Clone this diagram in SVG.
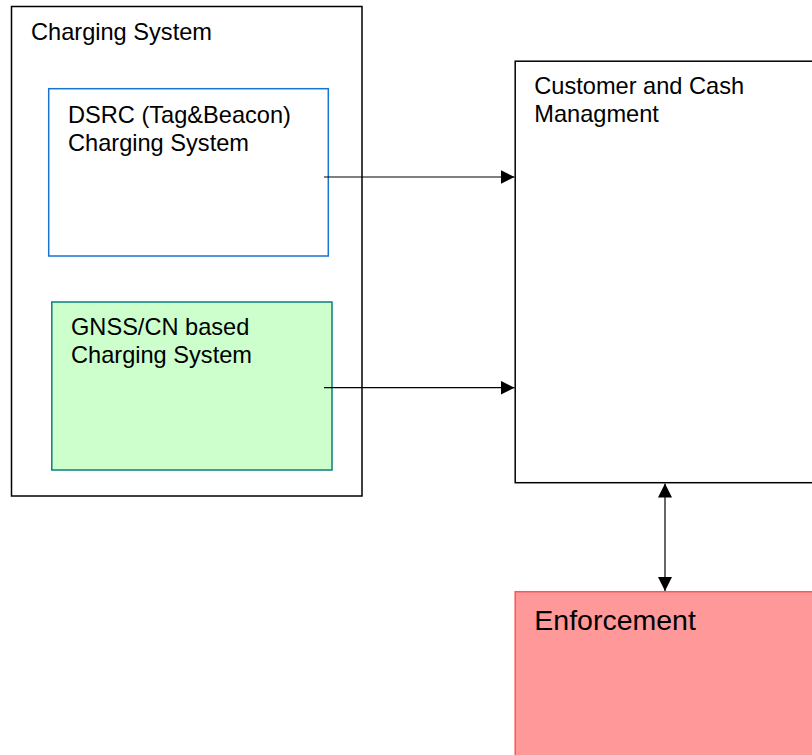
<svg xmlns="http://www.w3.org/2000/svg" width="812" height="755" viewBox="0 0 812 755">
  <style>
    text { font-family: "Liberation Sans", Arial, sans-serif; fill: #000; }
    .lbl { font-size: 23.6px; }
    .big { font-size: 28.5px; }
    .conn { stroke: #000; stroke-width: 1.2; fill: none; }
  </style>
  <defs>
    <marker id="head" viewBox="0 0 14 14" refX="14" refY="7" markerWidth="14" markerHeight="14" markerUnits="userSpaceOnUse" orient="auto-start-reverse">
      <path d="M0,0 L14,7 L0,14 Z" fill="#000"/>
    </marker>
  </defs>
  <rect width="812" height="755" fill="#fff"/>

  <g id="charging-system">
    <rect x="11.5" y="6.5" width="350.5" height="489.5" fill="#fff" stroke="#000" stroke-width="1.5"/>
    <text class="lbl" x="31" y="40">Charging System</text>
  </g>

  <g id="dsrc">
    <rect x="48.7" y="88.7" width="279.6" height="167.3" fill="#fff" stroke="#1874d0" stroke-width="1.5"/>
    <text class="lbl" x="68" y="123">DSRC (Tag&amp;Beacon)</text>
    <text class="lbl" x="68" y="151">Charging System</text>
  </g>

  <g id="gnss">
    <rect x="51.8" y="302" width="280.2" height="168" fill="#ccffcc" stroke="#0a8080" stroke-width="1.5"/>
    <text class="lbl" x="71" y="335">GNSS/CN based</text>
    <text class="lbl" x="71" y="363">Charging System</text>
  </g>

  <g id="customer-cash">
    <rect x="515.2" y="61.2" width="310" height="421.5" fill="#fff" stroke="#000" stroke-width="1.5"/>
    <text class="lbl" x="534.3" y="94.3">Customer and Cash</text>
    <text class="lbl" x="534.3" y="122">Managment</text>
  </g>

  <g id="enforcement">
    <rect x="515.2" y="591.7" width="310" height="180" fill="#ff9999" stroke="#ff5555" stroke-width="1.5"/>
    <text class="big" x="534.3" y="630">Enforcement</text>
  </g>

  <g id="connectors">
    <line class="conn" x1="324" y1="177" x2="514.5" y2="177" marker-end="url(#head)"/>
    <line class="conn" x1="324" y1="387.7" x2="514.5" y2="387.7" marker-end="url(#head)"/>
    <line class="conn" x1="665" y1="483.5" x2="665" y2="591" marker-start="url(#head)" marker-end="url(#head)"/>
  </g>
</svg>
